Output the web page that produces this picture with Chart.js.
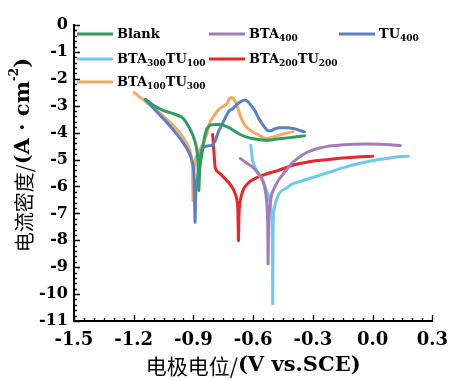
<!DOCTYPE html>
<html>
<head>
<meta charset="utf-8">
<script src="https://cdn.jsdelivr.net/npm/chart.js@4.4.1/dist/chart.umd.min.js"></script>
<style>
  body { margin: 0; background: #fff; }
  #c { display: block; }
</style>
</head>
<body>
<canvas id="c" width="457" height="380"></canvas>
<script>
// data: potential (V vs SCE) and log current density
const blankV = [-1.142, -1.101, -1.050, -1.003, -0.960, -0.938, -0.915, -0.897, -0.885, -0.878, -0.873, -0.868, -0.856, -0.845, -0.832, -0.816, -0.790, -0.760, -0.742, -0.720, -0.701, -0.670, -0.636, -0.590, -0.538, -0.500, -0.456, -0.400, -0.342];
const blankI = [-2.76, -2.98, -3.18, -3.29, -3.42, -3.60, -3.90, -4.22, -4.55, -5.00, -6.15, -5.30, -4.72, -4.20, -3.85, -3.72, -3.70, -3.70, -3.75, -3.82, -3.91, -4.05, -4.16, -4.24, -4.28, -4.26, -4.22, -4.17, -4.12];

const bta400V = [-0.664, -0.635, -0.603, -0.575, -0.556, -0.546, -0.536, -0.530, -0.527, -0.525, -0.522, -0.515, -0.506, -0.490, -0.473, -0.440, -0.407, -0.370, -0.326, -0.280, -0.228, -0.160, -0.098, -0.030, 0.033, 0.090, 0.139];
const bta400I = [-4.96, -5.12, -5.28, -5.50, -5.72, -5.90, -6.30, -6.77, -7.40, -8.88, -7.30, -6.70, -6.27, -6.00, -5.77, -5.45, -5.15, -4.92, -4.72, -4.60, -4.51, -4.46, -4.43, -4.42, -4.43, -4.45, -4.48];

const tu400V = [-1.142, -1.090, -1.036, -0.990, -0.954, -0.925, -0.905, -0.897, -0.892, -0.888, -0.880, -0.873, -0.865, -0.856, -0.835, -0.807, -0.790, -0.775, -0.750, -0.730, -0.718, -0.701, -0.677, -0.660, -0.644, -0.628, -0.612, -0.590, -0.571, -0.550, -0.530, -0.510, -0.489, -0.456, -0.424, -0.390, -0.342];
const tu400I = [-2.76, -3.18, -3.60, -4.00, -4.35, -4.70, -5.09, -5.60, -7.33, -6.20, -5.70, -5.34, -4.85, -4.59, -4.50, -4.47, -4.30, -3.97, -3.60, -3.30, -3.17, -3.10, -2.92, -2.84, -2.79, -2.84, -2.98, -3.20, -3.48, -3.72, -3.91, -3.93, -3.85, -3.82, -3.82, -3.86, -3.97];

const mix31V = [-0.612, -0.608, -0.603, -0.590, -0.575, -0.554, -0.538, -0.522, -0.512, -0.506, -0.503, -0.502, -0.500, -0.497, -0.489, -0.475, -0.456, -0.430, -0.407, -0.350, -0.293, -0.230, -0.163, -0.100, -0.033, 0.030, 0.098, 0.140, 0.180];
const mix31I = [-4.47, -4.75, -5.03, -5.30, -5.52, -5.77, -6.05, -6.39, -6.75, -7.14, -8.50, -10.36, -7.80, -7.00, -6.64, -6.35, -6.15, -6.05, -5.92, -5.78, -5.65, -5.50, -5.34, -5.20, -5.09, -5.00, -4.93, -4.89, -4.88];

const mix22V = [-0.804, -0.801, -0.799, -0.795, -0.791, -0.780, -0.767, -0.745, -0.718, -0.700, -0.685, -0.679, -0.677, -0.674, -0.671, -0.668, -0.661, -0.645, -0.620, -0.590, -0.554, -0.510, -0.473, -0.400, -0.330, -0.261, -0.200, -0.130, -0.060, 0.000];
const mix22I = [-4.07, -4.30, -4.53, -4.95, -5.28, -5.45, -5.52, -5.68, -5.90, -6.10, -6.39, -6.65, -6.89, -8.01, -7.00, -6.70, -6.39, -6.05, -5.84, -5.70, -5.59, -5.48, -5.40, -5.21, -5.10, -5.03, -4.98, -4.93, -4.90, -4.88];

const mix13V = [-1.198, -1.140, -1.085, -1.035, -0.987, -0.950, -0.921, -0.910, -0.905, -0.902, -0.898, -0.889, -0.870, -0.856, -0.835, -0.816, -0.790, -0.767, -0.745, -0.730, -0.718, -0.710, -0.698, -0.685, -0.670, -0.652, -0.630, -0.603, -0.570, -0.538, -0.505, -0.473, -0.440, -0.400];
const mix13I = [-2.51, -2.85, -3.17, -3.50, -3.85, -4.20, -4.59, -4.95, -5.34, -6.52, -5.50, -4.96, -4.65, -4.47, -4.10, -3.60, -3.30, -3.10, -3.00, -2.90, -2.73, -2.69, -2.75, -2.92, -3.25, -3.60, -3.82, -3.97, -4.10, -4.22, -4.17, -4.10, -4.03, -3.97];

// legend names, _{..} marks a subscript
const seriesNames = ['Blank', 'BTA_{400}', 'TU_{400}', 'BTA_{300}TU_{100}', 'BTA_{200}TU_{200}', 'BTA_{100}TU_{300}'];
const seriesColors = ['#2f9e5c', '#a67bba', '#5b80c8', '#6dc9ef', '#e8262b', '#f5a95f'];
const seriesV = [blankV, bta400V, tu400V, mix31V, mix22V, mix13V];
const seriesI = [blankI, bta400I, tu400I, mix31I, mix22I, mix13I];

const xMin = -1.5, xMax = 0.3, xStep = 0.3;
const yMin = -11, yMax = 0, yStep = 1;

const serif = '"DejaVu Serif", serif';
const cjk = '"Noto Sans CJK SC", sans-serif';

function toPoints(xs, ys) {
    return xs.map((x, i) => ({ x: x, y: ys[i] }));
}

// draw a run of text pieces one after another
function drawParts(ctx, parts, x, y) {
    parts.forEach(p => {
        ctx.font = p.font;
        ctx.fillText(p.t, x, y + (p.dy || 0));
        x += ctx.measureText(p.t).width;
    });
    return x;
}

function partsWidth(ctx, parts) {
    let w = 0;
    parts.forEach(p => { ctx.font = p.font; w += ctx.measureText(p.t).width; });
    return w;
}

function nameParts(name) {
    const out = [];
    name.split(/(_\{[^}]*\})/).forEach(s => {
        if (!s) return;
        if (s.startsWith('_{')) out.push({ t: s.slice(2, -1), font: 'bold 9px ' + serif, dy: 4 });
        else out.push({ t: s, font: 'bold 13px ' + serif });
    });
    return out;
}

const decoPlugin = {
    id: 'deco',
    afterDraw(chart) {
        const ctx = chart.ctx;
        const area = chart.chartArea;
        const xs = chart.scales.x, ys = chart.scales.y;
        ctx.save();
        ctx.strokeStyle = '#000';
        ctx.fillStyle = '#000';

        // inward ticks, major and minor
        ctx.lineWidth = 1.3;
        ctx.beginPath();
        for (let k = 0; k <= 36; k++) {
            const v = xMin + k * 0.05;
            const px = Math.round(xs.getPixelForValue(v)) + 0.5;
            const len = (k % 6 === 0) ? 6 : 3;
            ctx.moveTo(px, area.bottom);
            ctx.lineTo(px, area.bottom - len);
        }
        for (let k = 0; k <= 55; k++) {
            const v = yMin + k * 0.2;
            const py = Math.round(ys.getPixelForValue(v)) + 0.5;
            const len = (k % 5 === 0) ? 6 : 3;
            ctx.moveTo(area.left, py);
            ctx.lineTo(area.left + len, py);
        }
        ctx.stroke();

        // legend
        const rows = [area.top + 9, area.top + 34, area.top + 57];
        const cols = [area.left + 3, area.left + 135, area.left + 265];
        const slots = [[0, 0], [1, 0], [2, 0], [0, 1], [1, 1], [0, 2]];
        ctx.textBaseline = 'middle';
        ctx.textAlign = 'left';
        seriesNames.forEach((name, i) => {
            const lx = cols[slots[i][0]], ly = rows[slots[i][1]];
            ctx.strokeStyle = seriesColors[i];
            ctx.lineWidth = 3;
            ctx.beginPath();
            ctx.moveTo(lx, ly);
            ctx.lineTo(lx + 36, ly);
            ctx.stroke();
            ctx.fillStyle = '#000';
            drawParts(ctx, nameParts(name), lx + 40, ly + 1);
        });

        // x title
        const xt = [
            { t: '电极电位/', font: '21px ' + cjk },
            { t: '(V vs.SCE)', font: 'bold 21px ' + serif }
        ];
        const cx = (area.left + area.right) / 2;
        drawParts(ctx, xt, cx - partsWidth(ctx, xt) / 2, 366);

        // y title
        const yt = [
            { t: '电流密度/', font: '20px ' + cjk },
            { t: '(A · cm', font: 'bold 21px ' + serif },
            { t: '-2', font: 'bold 12px ' + serif, dy: -9 },
            { t: ')', font: 'bold 21px ' + serif }
        ];
        ctx.translate(24, area.top + 130);
        ctx.rotate(-Math.PI / 2);
        drawParts(ctx, yt, -partsWidth(ctx, yt) / 2, 0);
        ctx.restore();
    }
};

const datasets = seriesNames.map((name, i) => ({
    label: name,
    data: toPoints(seriesV[i], seriesI[i]),
    borderColor: seriesColors[i],
    backgroundColor: seriesColors[i],
    borderWidth: 3,
    pointRadius: 0,
    showLine: true,
    tension: 0.15,
    borderJoinStyle: 'round',
    borderCapStyle: 'round'
}));

new Chart(document.getElementById('c'), {
    type: 'scatter',
    data: { datasets: datasets },
    options: {
        responsive: false,
        animation: false,
        layout: { padding: { left: 0, right: 16, top: 25, bottom: 0 } },
        plugins: { legend: { display: false }, tooltip: { enabled: false } },
        scales: {
            x: {
                type: 'linear',
                min: xMin, max: xMax,
                afterFit: s => { s.height = 59; },
                border: { display: true, color: '#000', width: 2 },
                grid: { display: false, drawTicks: false },
                ticks: {
                    stepSize: xStep,
                    padding: 9,
                    color: '#000',
                    font: { family: serif, size: 18, weight: 'bold' },
                    callback: v => v.toFixed(1)
                }
            },
            y: {
                type: 'linear',
                min: yMin, max: yMax,
                afterFit: s => { s.width = 74; },
                border: { display: true, color: '#000', width: 2 },
                grid: { display: false, drawTicks: false },
                ticks: {
                    stepSize: yStep,
                    padding: 6,
                    color: '#000',
                    font: { family: serif, size: 16, weight: 'bold' },
                    callback: v => String(Math.round(v))
                }
            }
        }
    },
    plugins: [decoPlugin]
});
</script>
</body>
</html>
